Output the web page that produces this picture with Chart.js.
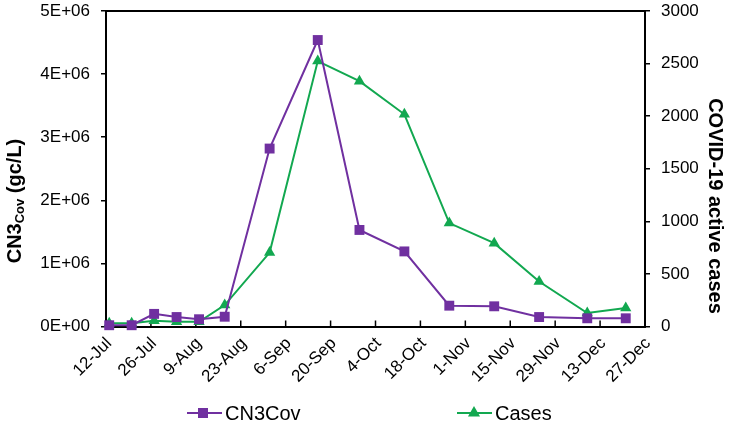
<!DOCTYPE html>
<html>
<head>
<meta charset="utf-8">
<script src="https://cdn.jsdelivr.net/npm/chart.js@4.4.1/dist/chart.umd.min.js"></script>
<style>
  html, body { margin: 0; padding: 0; background: #fff; }
  canvas { display: block; }
</style>
</head>
<body>
<canvas id="chart" width="729" height="430"></canvas>
<script>
// sampling dates (2020) and measured values
const sampleDates = ["2020-07-13", "2020-07-20", "2020-07-27", "2020-08-03", "2020-08-10", "2020-08-18",
    "2020-09-01", "2020-09-16", "2020-09-29", "2020-10-13", "2020-10-27", "2020-11-10",
    "2020-11-24", "2020-12-09", "2020-12-21"]
const cn3cov = [0.02e6, 0.02e6, 0.20e6, 0.15e6, 0.115e6, 0.155e6, 2.82e6, 4.54e6, 1.53e6, 1.19e6,
    0.33e6, 0.32e6, 0.15e6, 0.13e6, 0.13e6]
const cases = [30, 30, 55, 45, 45, 204, 703, 2524, 2333, 2018, 983, 792, 428, 128, 175]
const startDate = "2020-07-12"
const tickLabels = ["12-Jul", "26-Jul", "9-Aug", "23-Aug", "6-Sep", "20-Sep", "4-Oct",
    "18-Oct", "1-Nov", "15-Nov", "29-Nov", "13-Dec", "27-Dec"]

const FONT = "Arial, 'Liberation Sans', sans-serif"
const PURPLE = "#7030A0"
const GREEN = "#12A850"

const dayOf = (d) => (Date.parse(d) - Date.parse(startDate)) / 86400000
const pts = (vals) => vals.map((v, i) => ({ x: dayOf(sampleDates[i]), y: v }))

function drawSquare(ctx, x, y, s, color) {
    ctx.fillStyle = color
    ctx.fillRect(x - s / 2, y - s / 2, s, s)
}
function drawTriangle(ctx, x, y, r, color) {
    ctx.fillStyle = color
    ctx.beginPath()
    ctx.moveTo(x, y - r)
    ctx.lineTo(x + r * 0.866, y + r * 0.5)
    ctx.lineTo(x - r * 0.866, y + r * 0.5)
    ctx.closePath()
    ctx.fill()
}

// keep the plot box where the original has it
const fixY = (w) => (s) => {
    s.width = w
    s.paddingTop = 0
    s.paddingBottom = 0
}

const decor = {
    id: "decor",
    beforeDatasetsDraw(chart) {
        const { ctx, chartArea: a, scales } = chart
        ctx.save()
        ctx.strokeStyle = "#000"
        ctx.lineWidth = 2
        ctx.beginPath()
        ctx.moveTo(a.left - 1, a.top)
        ctx.lineTo(a.right + 1, a.top)
        ctx.stroke()
        // inside tick marks on the date axis
        ctx.lineWidth = 1.5
        scales.x.ticks.forEach((t) => {
            const px = scales.x.getPixelForValue(t.value)
            ctx.beginPath()
            ctx.moveTo(px, a.bottom)
            ctx.lineTo(px, a.bottom - 6)
            ctx.stroke()
        })
        ctx.restore()
    },
    afterDraw(chart) {
        const { ctx } = chart
        ctx.save()
        ctx.fillStyle = "#000"
        ctx.textBaseline = "middle"

        // left title with subscript
        const big = "bold 20px " + FONT
        const small = "bold 13px " + FONT
        ctx.font = big
        const w1 = ctx.measureText("CN3").width
        const w3 = ctx.measureText(" (gc/L)").width
        ctx.font = small
        const w2 = ctx.measureText("Cov").width
        const total = w1 + w2 + w3
        ctx.translate(15, 201)
        ctx.rotate(-Math.PI / 2)
        ctx.textAlign = "left"
        let x = -total / 2
        ctx.font = big
        ctx.fillText("CN3", x, 0)
        x += w1
        ctx.font = small
        ctx.fillText("Cov", x, 5)
        x += w2
        ctx.font = big
        ctx.fillText(" (gc/L)", x, 0)
        ctx.setTransform(1, 0, 0, 1, 0, 0)

        // right title
        ctx.translate(715, 206)
        ctx.rotate(Math.PI / 2)
        ctx.textAlign = "center"
        ctx.font = big
        ctx.fillText("COVID-19 active cases", 0, 0)
        ctx.setTransform(1, 0, 0, 1, 0, 0)

        // legend
        const ly = 413
        ctx.lineWidth = 2
        ctx.strokeStyle = PURPLE
        ctx.beginPath(); ctx.moveTo(187, ly); ctx.lineTo(222, ly); ctx.stroke()
        drawSquare(ctx, 203, ly, 10, PURPLE)
        ctx.strokeStyle = GREEN
        ctx.beginPath(); ctx.moveTo(457, ly); ctx.lineTo(492, ly); ctx.stroke()
        drawTriangle(ctx, 474, ly, 7, GREEN)
        ctx.font = "20px " + FONT
        ctx.textAlign = "left"
        ctx.fillStyle = "#000"
        ctx.fillText("CN3Cov", 225, ly + 1)
        ctx.fillText("Cases", 495, ly + 1)
        ctx.restore()
    },
}

const chart = new Chart(document.getElementById("chart"), {
    type: "line",
    data: {
        datasets: [
            {
                label: "CN3Cov",
                data: pts(cn3cov),
                yAxisID: "y",
                borderColor: PURPLE,
                backgroundColor: PURPLE,
                borderWidth: 2,
                pointStyle: "rect",
                pointRadius: 7,
                pointBorderWidth: 0,
                tension: 0,
                clip: false,
            },
            {
                label: "Cases",
                data: pts(cases),
                yAxisID: "y1",
                borderColor: GREEN,
                backgroundColor: GREEN,
                borderWidth: 2,
                pointStyle: "triangle",
                pointRadius: 6.5,
                pointBorderWidth: 0,
                tension: 0,
                clip: false,
            },
        ],
    },
    options: {
        responsive: false,
        animation: false,
        devicePixelRatio: 1,
        layout: { padding: { top: 11, left: 0, right: 0, bottom: 40 } },
        plugins: {
            legend: { display: false },
            title: { display: false },
            tooltip: { enabled: false },
        },
        scales: {
            x: {
                type: "linear",
                min: 0,
                max: 168,
                afterBuildTicks: (s) => {
                    s.ticks = tickLabels.map((_, i) => ({ value: i * 14 }))
                },
                afterFit: (s) => {
                    s.height = 63.5
                    s.paddingTop = 0
                },
                grid: { display: true, drawOnChartArea: false, drawTicks: false },
                border: { color: "#000", width: 2 },
                ticks: {
                    autoSkip: false,
                    minRotation: 45,
                    maxRotation: 45,
                    padding: 7,
                    labelOffset: 3,
                    color: "#000",
                    font: { family: FONT, size: 17 },
                    callback: (v) => tickLabels[Math.round(v / 14)],
                },
            },
            y: {
                position: "left",
                min: 0,
                max: 5e6,
                afterFit: fixY(106),
                grid: { drawOnChartArea: false, tickLength: 5, color: "#000", lineWidth: 1.5 },
                border: { color: "#000", width: 2 },
                ticks: {
                    stepSize: 1e6,
                    padding: 11,
                    color: "#000",
                    font: { family: FONT, size: 17 },
                    callback: (v) => (v === 0 ? "0E+00" : v / 1e6 + "E+06"),
                },
            },
            y1: {
                position: "right",
                min: 0,
                max: 3000,
                afterFit: fixY(84),
                grid: { drawOnChartArea: false, tickLength: 5, color: "#000", lineWidth: 1.5 },
                border: { color: "#000", width: 2 },
                ticks: {
                    stepSize: 500,
                    padding: 11,
                    color: "#000",
                    font: { family: FONT, size: 17 },
                    callback: (v) => String(v),
                },
            },
        },
    },
    plugins: [decor],
})
</script>
</body>
</html>
